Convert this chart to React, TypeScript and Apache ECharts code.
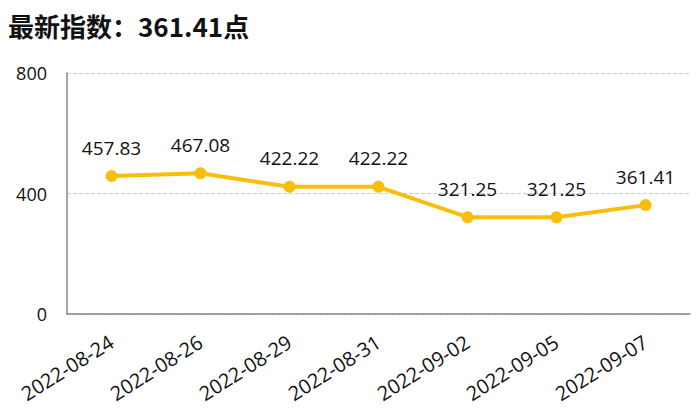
import React, { useEffect, useRef } from "react";
import * as echarts from "echarts";

const categories = ["2022-08-24", "2022-08-26", "2022-08-29", "2022-08-31", "2022-09-02", "2022-09-05", "2022-09-07"];
const values = [457.83, 467.08, 422.22, 422.22, 321.25, 321.25, 361.41];
const titleText = "最新指数：361.41点";

export default function App() {
  const ref = useRef<HTMLDivElement>(null);
  useEffect(() => {
    const chart = echarts.init(ref.current!, null, { renderer: "svg" });
    chart.setOption({
      animation: false,
      title: {
        text: titleText,
        left: 0,
        top: 4,
        padding: 0,
        textStyle: { fontSize: 26, fontWeight: "bold", color: "#111", fontFamily: "Noto Sans CJK SC" },
      },
      grid: { left: 59, right: 2, top: 65, bottom: 92 },
      xAxis: {
        type: "category",
        data: categories,
        boundaryGap: true,
        axisLine: { show: true, lineStyle: { color: "#888", width: 1.5 } },
        axisTick: { show: false },
        axisLabel: { rotate: 32, fontSize: 20, color: "#111", margin: 26, fontFamily: "Open Sans", interval: 0 },
      },
      yAxis: {
        type: "value",
        min: 0,
        max: 800,
        interval: 400,
        axisLine: { show: true, lineStyle: { color: "#888", width: 1.5 } },
        axisTick: { show: false },
        axisLabel: { fontSize: 18, color: "#111", margin: 20, fontFamily: "Open Sans" },
        splitLine: { show: true, lineStyle: { type: "dashed", color: "#ccc" } },
      },
      series: [
        {
          type: "line",
          data: values,
          symbol: "circle",
          symbolSize: 12,
          lineStyle: { width: 4, color: "#F9BE0C" },
          itemStyle: { color: "#F9BE0C" },
          label: { show: true, position: "top", distance: 13, fontSize: 19, color: "#111", fontFamily: "Open Sans" },
        },
      ],
    });
    return () => chart.dispose();
  }, []);
  return <div ref={ref} style={{ width: 684, height: 398 }} />;
}
